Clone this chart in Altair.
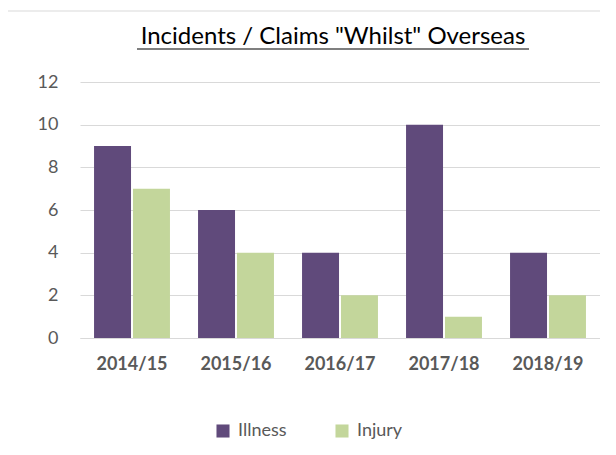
import altair as alt
import pandas as pd

years = ["2014/15", "2015/16", "2016/17", "2017/18", "2018/19"]
illness = [9, 6, 4, 10, 4]
injury = [7, 4, 2, 1, 2]
series = ["Illness", "Injury"]
colors = ["#604A7B", "#C3D69B"]
title_text = "Incidents / Claims \"Whilst\" Overseas"

rows = []
for y, a, b in zip(years, illness, injury):
    rows.append({"Year": y, "Type": "Illness", "Count": a})
    rows.append({"Year": y, "Type": "Injury", "Count": b})
df = pd.DataFrame(rows)

FONT = "Lato"

bars = alt.Chart(df).mark_bar().encode(
    x=alt.X("Year:N", sort=years, title=None,
            scale=alt.Scale(paddingInner=0.27, paddingOuter=0.135),
            axis=alt.Axis(labelAngle=0, labelFontWeight="bold", labelFontSize=18,
                          labelColor="#595959", labelFont=FONT, ticks=False,
                          domain=True, domainColor="#d9d9d9", labelPadding=17)),
    xOffset=alt.XOffset("Type:N", sort=series, scale=alt.Scale(paddingInner=0.05)),
    y=alt.Y("Count:Q", title=None,
            scale=alt.Scale(domain=[0, 12]),
            axis=alt.Axis(values=[0, 2, 4, 6, 8, 10, 12], labelFontSize=18,
                          labelColor="#595959", labelFont=FONT, ticks=False,
                          domain=False, gridColor="#d9d9d9", labelPadding=22)),
    color=alt.Color("Type:N", sort=series,
                    scale=alt.Scale(domain=series, range=colors),
                    legend=alt.Legend(title=None, orient="none", direction="horizontal",
                                      legendX=134, legendY=340, symbolType="square",
                                      symbolSize=170, labelFontSize=18, labelFont=FONT,
                                      labelColor="#595959", columnPadding=46,
                                      labelOffset=6, symbolStrokeWidth=0)),
)

one = pd.DataFrame({"t": [title_text]})

title = alt.Chart(one).mark_text(
    font=FONT, fontSize=24, color="#000000", align="center", baseline="alphabetic"
).encode(text="t:N", x=alt.value(253), y=alt.value(-38))

underline = alt.Chart(one).mark_rule(color="#000000", strokeWidth=1.2).encode(
    x=alt.value(57), x2=alt.value(449), y=alt.value(-33)
)

border = alt.Chart(one).mark_rect(
    fill=None, stroke="#d9d9d9", strokeWidth=1
).encode(
    x=alt.value(-73), x2=alt.value(700), y=alt.value(-71), y2=alt.value(500)
)

chart = alt.layer(border, bars, title, underline).properties(
    width=520, height=256,
    autosize=alt.AutoSizeParams(type="none"),
    padding={"left": 72, "top": 74, "right": 0, "bottom": 110},
).configure_view(stroke=None)

chart.save("out.html", embed_options={"renderer": "svg", "actions": False})
